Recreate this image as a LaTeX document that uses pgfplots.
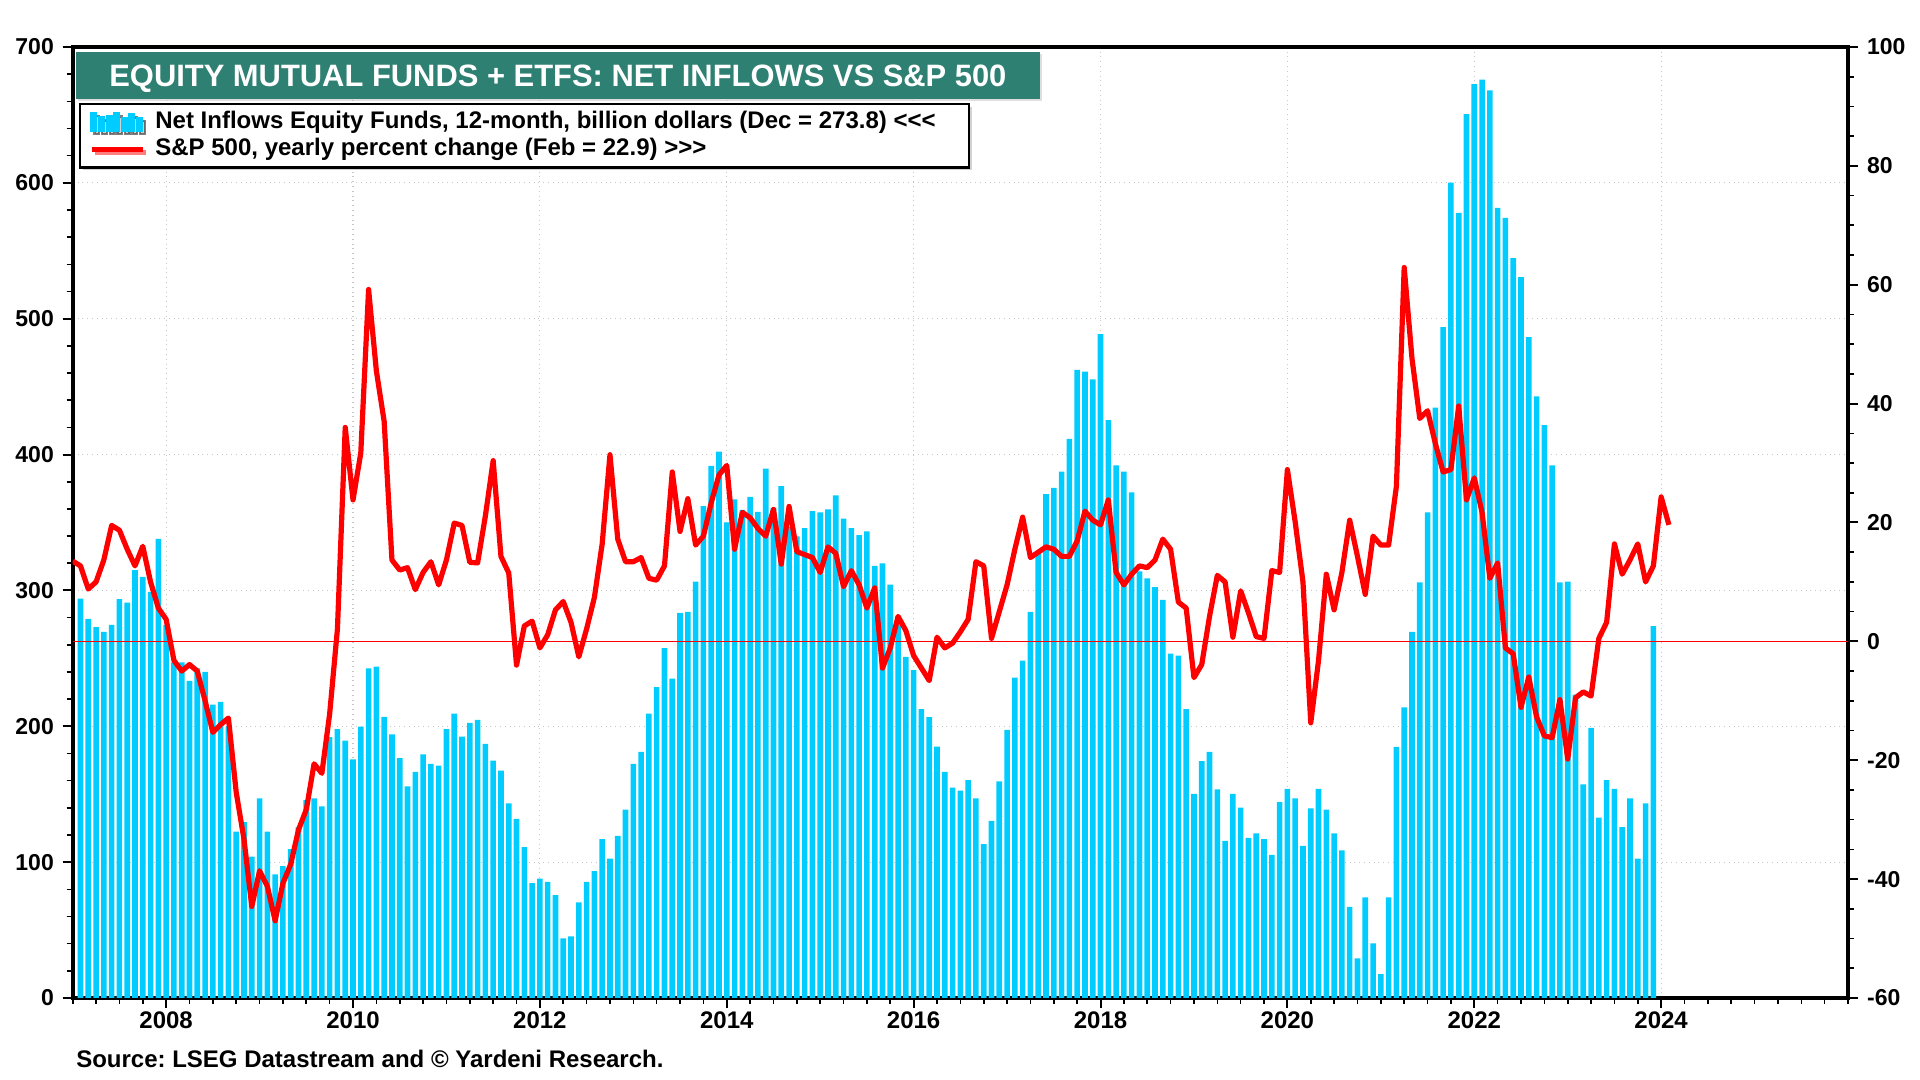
\documentclass[border=0pt]{standalone}
\usepackage{fontspec}
\setmainfont{Liberation Sans}
\usepackage{pgfplots}
\usepackage{pgfplotstable}
\pgfplotsset{compat=1.18}
\usetikzlibrary{shadows}
\frenchspacing

\definecolor{barcyan}{RGB}{0,204,255}
\definecolor{titleteal}{RGB}{46,128,114}
\definecolor{spred}{RGB}{255,0,0}

\newcommand{\tickfont}{\fontsize{11.5}{13}\selectfont\bfseries}

% net inflows equity funds, 12-month sum, bn $ (one bar per month, index 1..203, last = Dec 2023)
\pgfplotstableread{
v
294
279
273
269.5
274.6
293.6
291
315
310
299
338
274.6
247
247
233.5
242.7
240
216
218
200
122.5
129.5
104
147
122.5
91
97
109.6
125.7
145.6
147
141
192
198
189.5
175.7
199.7
242.7
244
207
194
176.6
155.8
166.4
179.4
172.4
171
198
209.4
192.3
202.5
204.8
187
174.8
167.4
143.3
131.8
111
84.6
87.8
85.5
75.8
43.9
45.3
70.3
85.5
93.4
117
102.6
119.3
138.7
172.4
181.2
209.4
228.8
257.5
235
283.4
284.3
306.5
362
391.6
402.2
350
367
359.2
368.9
357.8
389.7
360.6
376.8
346.7
339.8
345.8
358.3
357.4
359.7
369.9
352.8
345.8
340.7
343.5
318
320
304.2
275
251
241.3
212.7
206.7
185
166.4
154.9
152.6
160.4
147
113.3
130.4
159.5
197.4
235.8
248.3
284.3
329.2
370.8
375.4
387.4
411.5
462.3
461
455.4
488.7
425.3
392
387.4
372.2
314
308.8
302.4
293.1
253.4
252
212.7
150.3
174.3
181.2
153.5
115.6
150.3
140.1
117.9
121.1
117
105.4
144.2
154
147
111.9
139.6
154
138.7
121.1
108.6
67
29.1
74
40.2
17.6
74
184.9
214
269.5
306
357.4
434.6
493.8
600.1
577.9
650.5
672.7
676
668
581.6
574.2
544.6
530.7
486.4
442.9
421.6
392.1
306
306.5
223.3
157.2
198.8
132.7
160.4
154
125.8
147
102.6
143.3
273.8
}\inflows

% S&P 500 yearly percent change, month ends Dec 2006 .. Jan 2024 (index 0..205)
\pgfplotstableread{
v
13.5
12.7
8.8
10
13.7
19.5
18.7
15.5
12.7
16
10
5.6
3.7
-3.2
-5
-3.9
-5
-10
-15.3
-14
-12.9
-25.4
-33.3
-44.6
-38.6
-41.2
-47
-40.7
-37.5
-31.7
-28.3
-20.6
-22.2
-12.2
2.1
36
23.8
31.7
59.2
45.5
37
13.7
12
12.4
8.7
11.6
13.4
9.5
13.7
19.9
19.5
13.3
13.2
21.1
30.4
14.3
11.5
-4
2.6
3.4
-1.1
1.1
5.3
6.7
3.2
-2.6
2.1
7.4
16.4
31.4
17.2
13.4
13.4
14.1
10.6
10.3
12.7
28.5
18.5
24
16.2
17.7
23.3
28
29.6
15.5
21.7
20.8
19
17.7
22.2
13
22.7
15.1
14.6
14.1
11.6
15.9
14.8
9.2
11.9
9.5
5.6
9
-4.5
-1.1
4.2
1.8
-2.4
-4.5
-6.6
0.7
-1.1
-0.3
1.6
3.7
13.4
12.7
0.5
5
9.5
15.5
20.9
14.1
15
15.9
15.5
14.3
14.3
16.9
21.9
20.4
19.6
23.8
11.6
9.5
11.3
12.7
12.4
13.7
17.2
15.5
6.6
5.6
-6.1
-3.9
4.2
11.1
10
0.7
8.5
4.8
0.8
0.5
11.9
11.6
28.9
20.1
10
-13.7
-3.2
11.3
5.3
11.6
20.4
14.3
7.9
17.7
16.2
16.2
26.1
62.9
47.6
37.5
38.8
33.3
28.5
28.9
39.6
23.8
27.5
21.7
10.6
13.2
-1.1
-2.1
-11.1
-6
-12.7
-15.9
-16.2
-9.8
-19.8
-9.5
-8.5
-9.2
0.5
3.2
16.4
11.3
13.7
16.4
10
12.7
24.3
19.6
}\spx

\pgfplotsset{
  base/.style={
    scale only axis,
    width=887.65pt, height=475.5pt,
    at={(36.35pt,41pt)}, anchor=south west,
    xmin=0, xmax=228,
    tick align=outside,
    major tick length=5pt, minor tick length=3pt,
    major tick style={black, line width=1pt},
    minor tick style={black, line width=0.8pt},
    axis line style={line width=2pt},
    /pgf/number format/assume math mode=true,
    tick label style={font=\tickfont},
  },
}

\begin{document}
\begin{tikzpicture}
\path[use as bounding box] (0,0) rectangle (960pt,540pt);

% left axis: bars
\begin{axis}[base,
  ymin=0, ymax=700,
  ytick={0,100,...,700},
  minor ytick={0,20,...,700},
  ytick pos=left,
  xtick pos=bottom,
  xtick={12,36,...,204},
  xticklabels={2008,2010,2012,2014,2016,2018,2020,2022,2024},
  minor xtick={0,3,...,228},
  xmajorgrids, ymajorgrids,
  major grid style={gray!45, dotted, line width=0.6pt},
  yticklabel style={xshift=-0.9pt},
  xticklabel style={yshift=1.5pt, font=\fontsize{12}{14}\selectfont\bfseries},
]
\addplot[ybar, bar width=0.72, bar shift=0pt, fill=barcyan, draw=none]
  table[x expr=\coordindex+1, y=v] {\inflows};
\end{axis}

% right axis: S&P 500 line
\begin{axis}[base,
  ymin=-60, ymax=100,
  ytick={-60,-40,...,100},
  minor ytick={-60,-55,...,100},
  axis x line=none,
  axis y line*=right,
  yticklabel style={xshift=1pt},
  extra y ticks={0}, extra y tick labels={},
  extra y tick style={grid=major, major grid style={draw=spred, line width=0.6pt, solid}},
  legend cell align=left,
  legend style={
    at={(axis description cs:0.00355,0.9411)}, anchor=north west,
    draw=black, line width=1.2pt, fill=white,
    inner xsep=4.5pt, inner ysep=2.2pt,
    column sep=4pt,
    drop shadow={shadow xshift=1.5pt, shadow yshift=-1.5pt, fill=black!35},
    font=\fontsize{12}{14}\selectfont\bfseries,
    nodes={inner sep=1.2pt, text height=8.6pt, text depth=2.6pt},
  },
]
\addlegendimage{legend image code/.code={
  \fill[barcyan] (0pt,-4.5pt) rectangle (2.3pt,4.5pt);
  \fill[barcyan] (3.8pt,-4.5pt) rectangle (6.1pt,2.4pt);
  \fill[barcyan] (7.6pt,-4.5pt) rectangle (9.9pt,3.2pt);
  \fill[barcyan] (11.4pt,-4.5pt) rectangle (13.7pt,4.3pt);
  \fill[barcyan] (15.2pt,-4.5pt) rectangle (17.5pt,2.2pt);
  \fill[barcyan] (19pt,-4.5pt) rectangle (21.3pt,3.9pt);
  \fill[barcyan] (22.8pt,-4.5pt) rectangle (25.1pt,2pt);
}}
\addlegendentry{Net Inflows Equity Funds, 12-month, billion dollars (Dec = 273.8) <\kern0pt<\kern0pt<\hspace*{11pt}}
\addplot[spred, line width=2.6pt, line join=round,
  legend image code/.code={\draw[spred, line width=2.4pt] (0pt,0pt) -- (25.5pt,0pt);}]
  table[x expr=\coordindex, y=v] {\spx};
\addlegendentry{S\&P 500, yearly percent change (Feb = 22.9) >\kern0pt>\kern0pt>}
\end{axis}

% title banner
\node[fill=titleteal, text=white, inner sep=0pt,
  minimum width=482.1pt, minimum height=23.65pt,
  text height=11pt, text depth=0pt,
  drop shadow={shadow xshift=1.2pt, shadow yshift=-1.2pt, fill=black!25},
  font=\fontsize{15.45}{18}\selectfont\bfseries]
  at (278.95pt,502.3pt) {EQUITY MUTUAL FUNDS + ETFS: NET INFLOWS VS S\&P 500};

% source
\node[anchor=base west, inner sep=0pt, font=\fontsize{12}{14}\selectfont\bfseries]
  at (37.95pt,6pt) {Source: LSEG Datastream and \textcopyright{} Yardeni Research.};
\end{tikzpicture}
\end{document}
